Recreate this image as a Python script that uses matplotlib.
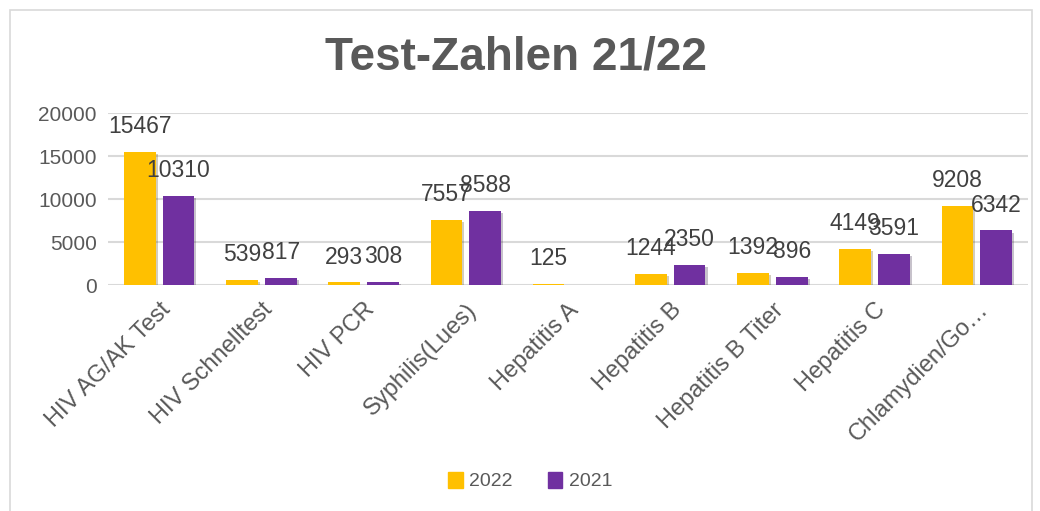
import numpy as np
import matplotlib.pyplot as plt
import matplotlib.patheffects as pe
from matplotlib.patches import Rectangle, Patch

categories = ["HIV AG/AK Test", "HIV Schnelltest", "HIV PCR", "Syphilis(Lues)",
              "Hepatitis A", "Hepatitis B", "Hepatitis B Titer", "Hepatitis C",
              "Chlamydien/Go…"]
tests_2022 = [15467, 539, 293, 7557, 125, 1244, 1392, 4149, 9208]
tests_2021 = [10310, 817, 308, 8588, np.nan, 2350, 896, 3591, 6342]
yticks = [0, 5000, 10000, 15000, 20000]

YELLOW = "#FFC000"
PURPLE = "#7030A0"
TXT = "#595959"
LBL = "#404040"

plt.rcParams["font.family"] = ["Liberation Sans", "DejaVu Sans"]

fig = plt.figure(figsize=(10.4, 5.11), dpi=100)
fig.patches.append(Rectangle((10 / 1040, -0.1), 1022 / 1040, 1.1 - 10 / 511,
                             transform=fig.transFigure, fill=False,
                             edgecolor="#D9D9D9", lw=1.2))

ax = fig.add_axes([108 / 1040, 1 - 285 / 511, 920 / 1040, 172 / 511])

x = np.arange(len(categories))
w = 0.31
off = 0.19
shadow = [pe.SimplePatchShadow(offset=(1.5, -1.5), alpha=0.25), pe.Normal()]
b1 = ax.bar(x - off, tests_2022, w, color=YELLOW, zorder=3, path_effects=shadow)
b2 = ax.bar(x + off, tests_2021, w, color=PURPLE, zorder=3, path_effects=shadow)

for bars, vals in ((b1, tests_2022), (b2, tests_2021)):
    for bar, v in zip(bars, vals):
        if np.isnan(v):
            continue
        ax.annotate(f"{int(v)}", (bar.get_x() + bar.get_width() / 2, v),
                    xytext=(0, 10), textcoords="offset points",
                    ha="center", va="bottom", fontsize=16.5, color=LBL)

ax.set_xlim(-0.5, len(categories) - 0.5)
ax.set_ylim(0, 20000)
ax.set_yticks(yticks)
ax.set_yticklabels([str(t) for t in yticks])
ax.set_xticks(x)
ax.set_xticklabels(categories, rotation=45, ha="right", rotation_mode="anchor")
ax.tick_params(axis="y", length=0, labelsize=15, colors=TXT, pad=8)
ax.tick_params(axis="x", length=0, labelsize=17, colors=TXT, pad=10)
ax.grid(axis="y", color="#D9D9D9", lw=1.5, zorder=0)
for s in ax.spines.values():
    s.set_visible(False)

fig.text(0.496, 1 - 57 / 511, "Test-Zahlen 21/22", ha="center", va="center",
         fontsize=33, fontweight="bold", color=TXT)

handles = [Patch(color=YELLOW, label="2022"), Patch(color=PURPLE, label="2021")]
fig.legend(handles=handles, loc="center", bbox_to_anchor=(0.51, 1 - 481 / 511),
           ncol=2, frameon=False, handlelength=0.75, handleheight=0.9,
           handletextpad=0.35, columnspacing=1.8, labelcolor=TXT,
           prop={"family": ["Liberation Sans Narrow", "Liberation Sans"], "size": 14})

fig.savefig("out.png", dpi=100)
